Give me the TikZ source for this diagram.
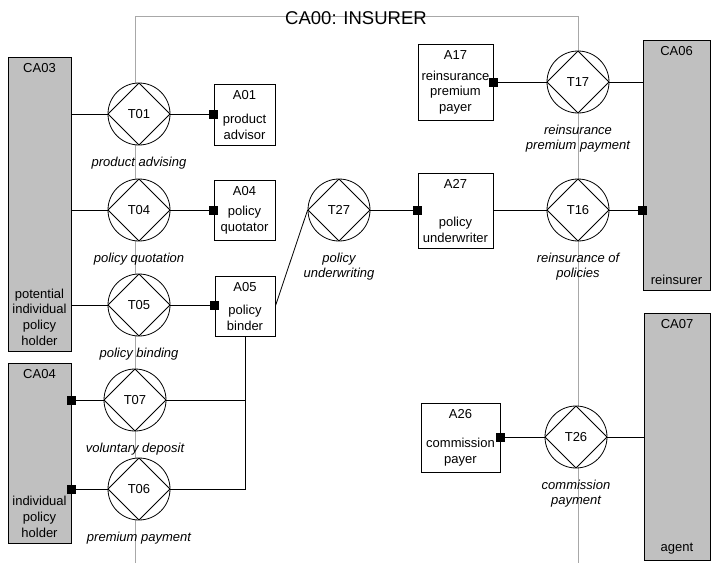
\documentclass[tikz,border=0pt]{standalone}
\usepackage{fontspec}
\setmainfont{Liberation Sans}
\usepackage{xcolor}
\usepackage{tikz}
\definecolor{insfill}{HTML}{C0C0C0}
\definecolor{insbound}{HTML}{A8A8A8}
\newcommand{\inssize}{\fontsize{13}{15.7}\selectfont}
\tikzset{%
  insactor/.style={%
    draw=black,
    fill=insfill,
    line width=0.9pt,
    inner sep=0pt
  },
  insrole/.style={%
    draw=black,
    fill=white,
    line width=0.8pt,
    inner sep=0pt
  },
  instrans/.style={%
    circle,
    draw=black,
    fill=white,
    line width=0.8pt,
    minimum size=62pt,
    inner sep=0pt,
    font=\inssize,
    path picture={\draw[line width=0.8pt] (path picture bounding box.north) -- (path picture bounding box.east) -- (path picture bounding box.south) -- (path picture bounding box.west) -- cycle;}
  },
  instop/.style={anchor=north,inner sep=0pt,yshift=-7pt,align=center,font=\inssize},
  insbottom/.style={anchor=south,inner sep=0pt,yshift=6pt,align=center,font=\inssize},
  insname/.style={align=center,inner sep=1pt,label distance=10pt,font=\inssize\itshape},
  inslink/.style={draw=black,line width=0.8pt},
  insstamp/.style={fill=black,minimum size=9pt,inner sep=0pt},
  insboundary/.style={draw=insbound,line width=0.8pt}
}

\begin{document}
\begin{tikzpicture}[x=1pt,y=-1pt]
    \useasboundingbox (0,0) rectangle (711,563);
    \draw[insboundary] (135,563) -- (135,16) -- (578,16) -- (578,563);
    \node[font=\fontsize{18.5}{20}\selectfont,inner sep=0pt] (title) at (356,18) {CA00: INSURER};

    \node[insactor,minimum width=63pt,minimum height=294pt,label={[instop]north:CA03},label={[insbottom]south:potential\\individual\\policy\\holder}] (ca03) at (39.5,204) {};
    \node[insactor,minimum width=63pt,minimum height=180pt,label={[instop]north:CA04},label={[insbottom]south:individual\\policy\\holder}] (ca04) at (39.5,453) {};
    \node[insactor,minimum width=67pt,minimum height=250pt,label={[instop]north:CA06},label={[insbottom]south:reinsurer}] (ca06) at (676.5,165) {};
    \node[insactor,minimum width=66pt,minimum height=247pt,label={[instop]north:CA07},label={[insbottom]south:agent}] (ca07) at (677,436.5) {};

    \node[insrole,minimum width=61pt,minimum height=61pt,label={[instop]north:A01},label={[insbottom]south:product\\advisor}] (a01) at (244.5,114.5) {};
    \node[insrole,minimum width=61pt,minimum height=60pt,label={[instop]north:A04},label={[insbottom]south:policy\\quotator}] (a04) at (244.5,210) {};
    \node[insrole,minimum width=60pt,minimum height=60pt,label={[instop]north:A05},label={[insbottom]south:policy\\binder}] (a05) at (245,306) {};
    \node[insrole,minimum width=75pt,minimum height=76pt,label={[instop]north:A17},label={[insbottom]south:reinsurance\\premium\\payer}] (a17) at (455.5,82) {};
    \node[insrole,minimum width=75pt,minimum height=75pt,label={[instop]north:A27},label={[insbottom]south:policy\\underwriter}] (a27) at (455.5,210.5) {};
    \node[insrole,minimum width=79pt,minimum height=69pt,label={[instop]north:A26},label={[insbottom]south:commission\\payer}] (a26) at (460.5,437.5) {};

    \node[instrans,label={[insname]below:product advising}] (t01) at (139,114) {T01};
    \node[instrans,label={[insname]below:policy quotation}] (t04) at (139,210) {T04};
    \node[instrans,label={[insname]below:policy binding}] (t05) at (139,305) {T05};
    \node[instrans,label={[insname]below:voluntary deposit}] (t07) at (135,400) {T07};
    \node[instrans,label={[insname]below:premium payment}] (t06) at (139,489) {T06};
    \node[instrans,label={[insname]below:policy\\underwriting}] (t27) at (339,210) {T27};
    \node[instrans,label={[insname]below:reinsurance\\premium payment}] (t17) at (578,82) {T17};
    \node[instrans,label={[insname]below:reinsurance of\\policies}] (t16) at (578,210) {T16};
    \node[instrans,label={[insname]below:commission\\payment}] (t26) at (576,437) {T26};

    \draw[inslink] (ca03.east |- t01.west) -- (t01.west);
    \draw[inslink] (ca03.east |- t04.west) -- (t04.west);
    \draw[inslink] (ca03.east |- t05.west) -- (t05.west);
    \draw[inslink] (t01.east) -- (t01.east -| a01.west);
    \draw[inslink] (t04.east) -- (t04.east -| a04.west);
    \draw[inslink] (t05.east) -- (t05.east -| a05.west);
    \draw[inslink] (ca04.east |- t07.west) -- (t07.west);
    \draw[inslink] (ca04.east |- t06.west) -- (t06.west);
    \draw[inslink] (a05.south) |- (t06.east);
    \draw[inslink] (a05.south |- t07.east) -- (t07.east);
    \draw[inslink] (a05.east) -- (t27.west);
    \draw[inslink] (t27.east) -- (t27.east -| a27.west);
    \draw[inslink] (a27.east |- t16.west) -- (t16.west);
    \draw[inslink] (t16.east) -- (t16.east -| ca06.west);
    \draw[inslink] (a17.east |- t17.west) -- (t17.west);
    \draw[inslink] (t17.east) -- (t17.east -| ca06.west);
    \draw[inslink] (a26.east |- t26.west) -- (t26.west);
    \draw[inslink] (t26.east) -- (t26.east -| ca07.west);

    \node[insstamp] (s01) at (t01.east -| a01.west) {};
    \node[insstamp] (s04) at (t04.east -| a04.west) {};
    \node[insstamp] (s05) at (t05.east -| a05.west) {};
    \node[insstamp] (s07) at (ca04.east |- t07.west) {};
    \node[insstamp] (s06) at (ca04.east |- t06.west) {};
    \node[insstamp] (s27) at (t27.east -| a27.west) {};
    \node[insstamp] (s16) at (t16.east -| ca06.west) {};
    \node[insstamp] (s17) at (a17.east |- t17.west) {};
    \node[insstamp] (s26) at (a26.east |- t26.west) {};
  \end{tikzpicture}
\end{document}
